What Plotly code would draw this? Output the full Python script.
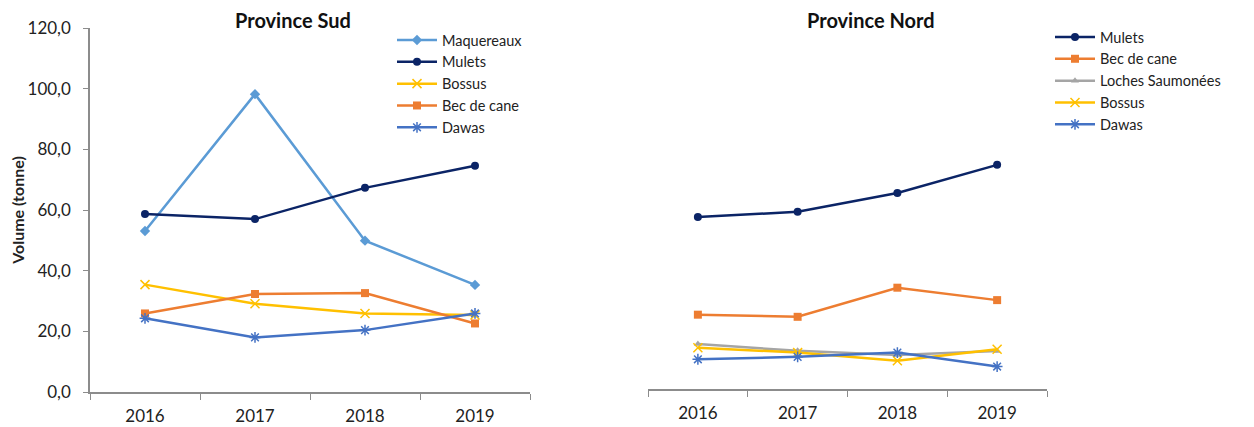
import plotly.graph_objects as go

years = ["2016", "2017", "2018", "2019"]

# Province Sud (tonnes)
sud_maquereaux = [53.1, 98.2, 49.9, 35.3]
sud_mulets = [58.7, 57.0, 67.3, 74.6]
sud_bossus = [35.4, 29.1, 25.9, 25.4]
sud_bec = [25.9, 32.3, 32.6, 22.6]
sud_dawas = [24.3, 18.0, 20.4, 25.9]

# Province Nord (tonnes)
nord_mulets = [56.7, 58.4, 64.6, 73.9]
nord_bec = [24.5, 23.8, 33.4, 29.3]
nord_loches = [14.8, 12.6, 11.2, 12.5]
nord_bossus = [13.6, 12.0, 9.3, 13.1]
nord_dawas = [9.8, 10.6, 12.0, 7.4]

C_MAQ = "#5B9BD5"
C_MUL = "#0B2466"
C_BOS = "#FFC000"
C_BEC = "#ED7D31"
C_DAW = "#4472C4"
C_LOC = "#A5A5A5"

W, H = 1254, 427
FONT = "Lato"
OFF = 8  # page body margin


def px_x(p):
    return (p - OFF) / W


def px_y(p):
    return (H - (p - OFF)) / H


def line(name, y, color, symbol, size, xa, ya, legend, open_marker=False):
    marker = dict(symbol=symbol, size=size, color=color)
    if open_marker:
        marker["line"] = dict(color=color, width=1.5)
    return go.Scatter(
        x=years, y=y, name=name, mode="lines+markers",
        line=dict(color=color, width=2.5),
        marker=marker, xaxis=xa, yaxis=ya, legend=legend,
    )


fig = go.Figure()
fig.add_trace(line("Maquereaux", sud_maquereaux, C_MAQ, "diamond", 8, "x", "y", "legend"))
fig.add_trace(line("Mulets", sud_mulets, C_MUL, "circle", 8, "x", "y", "legend"))
fig.add_trace(line("Bossus", sud_bossus, C_BOS, "x-thin-open", 9, "x", "y", "legend", True))
fig.add_trace(line("Bec de cane", sud_bec, C_BEC, "square", 8, "x", "y", "legend"))
fig.add_trace(line("Dawas", sud_dawas, C_DAW, "asterisk-open", 9, "x", "y", "legend", True))

fig.add_trace(line("Mulets", nord_mulets, C_MUL, "circle", 8, "x2", "y2", "legend2"))
fig.add_trace(line("Bec de cane", nord_bec, C_BEC, "square", 8, "x2", "y2", "legend2"))
fig.add_trace(line("Loches Saumonées", nord_loches, C_LOC, "triangle-up", 7, "x2", "y2", "legend2"))
fig.add_trace(line("Bossus", nord_bossus, C_BOS, "x-thin-open", 9, "x2", "y2", "legend2", True))
fig.add_trace(line("Dawas", nord_dawas, C_DAW, "asterisk-open", 9, "x2", "y2", "legend2", True))

axis_col = "#8C8C8C"
xcommon = dict(type="category", range=[-0.5, len(years) - 0.5],
               showgrid=False, showline=True, linecolor=axis_col, linewidth=1.5,
               ticks="outside", tickson="boundaries", ticklen=6, tickcolor=axis_col,
               ticklabelstandoff=8,
               tickfont=dict(size=17, color="#222222"), zeroline=False, automargin=False)

legend_common = dict(xanchor="left", yanchor="top", font=dict(size=14.5, color="#222222"),
                     bgcolor="rgba(0,0,0,0)", tracegroupgap=0, itemwidth=40)

fig.update_layout(
    width=W, height=H,
    paper_bgcolor="white", plot_bgcolor="white",
    font=dict(family=FONT, color="#222222"),
    margin=dict(l=0, r=0, t=0, b=0, autoexpand=False),
    xaxis=dict(domain=[px_x(90), px_x(530)], anchor="y", **xcommon),
    yaxis=dict(domain=[px_y(392), px_y(28)], range=[0, 120], dtick=20, tickformat=".1f",
               showgrid=False, showline=True, linecolor=axis_col, linewidth=1.5,
               ticks="outside", ticklen=5, tickcolor=axis_col, zeroline=False, automargin=False,
               ticklabelstandoff=9,
               tickfont=dict(size=17, color="#222222"),
               title=dict(text="<b>Volume (tonne)</b>", font=dict(size=16), standoff=5)),
    xaxis2=dict(domain=[px_x(648), px_x(1047)], anchor="y2", **xcommon),
    yaxis2=dict(domain=[px_y(389), px_y(25)], range=[0, 120], visible=False),
    separators=", ",
    legend=dict(x=px_x(392), y=px_y(24), **legend_common),
    legend2=dict(x=px_x(1050), y=px_y(21), **legend_common),
    annotations=[
        dict(text="<b>Province Sud</b>", x=px_x(293), y=px_y(20), xref="paper", yref="paper",
             xanchor="center", yanchor="middle",
             showarrow=False, font=dict(size=20, color="#111111")),
        dict(text="<b>Province Nord</b>", x=px_x(871), y=px_y(20), xref="paper", yref="paper",
             xanchor="center", yanchor="middle",
             showarrow=False, font=dict(size=20, color="#111111")),
    ],
)

fig.write_html("out.html")
